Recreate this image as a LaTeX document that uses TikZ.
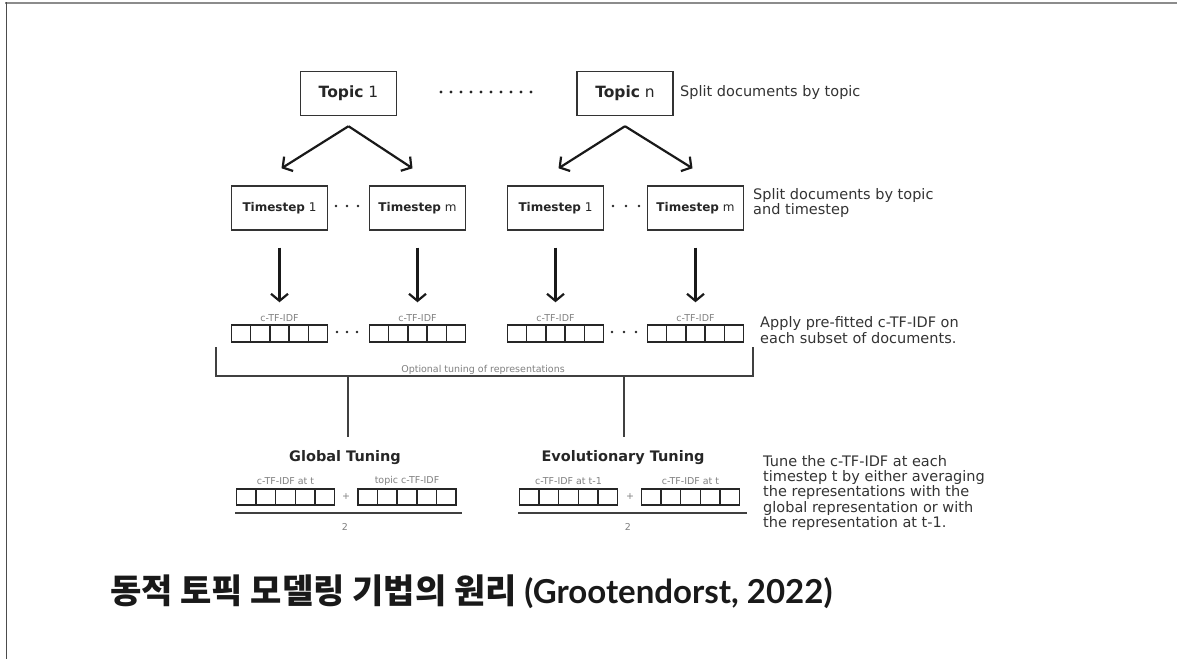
\documentclass[tikz,border=0pt]{standalone}
\usepackage{fontspec}
\setmainfont{DejaVu Sans}
\newfontfamily\krfont{Noto Sans CJK KR}
\newfontfamily\latofont{Lato}
\usetikzlibrary{arrows.meta,calc}
\begin{document}
\begin{tikzpicture}[x=1pt,y=-1pt,
  mybox/.style={draw=black!80, line width=1.4pt, inner sep=0pt, minimum height=44pt, text=black!85},
  topicbox/.style={mybox, minimum width=96pt, font=\fontsize{15.5}{17}\selectfont},
  tsbox/.style={mybox, minimum width=96pt, font=\fontsize{12}{14}\selectfont},
  cellrow/.style={draw=black!85, line width=1.5pt, minimum width=96pt, minimum height=17pt, inner sep=0pt,
    path picture={\foreach \i in {1,...,4}{\draw[black!85, line width=1.5pt]
      ($(path picture bounding box.south west)!\i/5!(path picture bounding box.south east)$) --
      ($(path picture bounding box.north west)!\i/5!(path picture bounding box.north east)$);}}},
  arr/.style={line width=2.2pt, black!90, -{Straight Barb[length=7pt,width=17pt,line width=2.2pt]}},
  lbl/.style={font=\fontsize{9.5}{11}\selectfont, text=black!50, inner sep=0pt},
  desc/.style={font=\fontsize{14.5}{15.3}\selectfont, text=black!80, align=left, inner sep=0pt},
  ttl/.style={font=\fontsize{14.5}{16}\selectfont\bfseries, text=black!85, inner sep=0pt},
  brk/.style={line width=1.3pt, black!75},
  dotfill/.style={fill=black!85, draw=none}
]
\useasboundingbox (0,0) rectangle (1177,659);
% frame
\draw[black!45, line width=2pt] (5,2.5) -- (1177,2.5);
\draw[black!70, line width=1pt] (6,2) -- (6,659);

% topics
\node[topicbox] (t1) at (348.5,93.5) {\textbf{Topic} 1};
\node[topicbox] (tn) at (625,93.5) {\textbf{Topic} n};
\foreach \x in {0,...,9} \fill[dotfill] (441+\x*10,92) circle (1.7pt);
\node[desc, anchor=west] (lab1) at (680,92) {Split documents by topic};

% timesteps
\node[tsbox] (s11) at (279.5,208) {\textbf{Timestep} 1};
\node[tsbox] (s1m) at (417.5,208) {\textbf{Timestep} m};
\node[tsbox] (s21) at (555.5,208) {\textbf{Timestep} 1};
\node[tsbox] (s2m) at (695.5,208) {\textbf{Timestep} m};
\foreach \x in {336,347,358} \fill[dotfill] (\x,206) circle (1.4pt);
\foreach \x in {613,626,639} \fill[dotfill] (\x,206) circle (1.4pt);
\node[desc, anchor=west] (lab2) at (753,203) {Split documents by topic\\and timestep};

% topic arrows
\draw[arr] ([yshift=-10pt]t1.south) -- ([xshift=2pt,yshift=17pt]s11.north);
\draw[arr] ([yshift=-10pt]t1.south) -- ([xshift=-5pt,yshift=17pt]s1m.north);
\draw[arr] ([yshift=-10pt]tn.south) -- ([xshift=3pt,yshift=17pt]s21.north);
\draw[arr] ([yshift=-10pt]tn.south) -- ([xshift=-3pt,yshift=17pt]s2m.north);

% c-TF-IDF arrays
\node[cellrow] (a11) at (279.5,333.5) {};
\node[cellrow] (a1m) at (417.5,333.5) {};
\node[cellrow] (a21) at (555.5,333.5) {};
\node[cellrow] (a2m) at (695.5,333.5) {};
\foreach \n in {a11,a1m,a21,a2m}
  \node[lbl, anchor=south] at ([yshift=2pt]\n.north) {c-TF-IDF};
\foreach \x in {337,347,357} \fill[dotfill] (\x,332) circle (1.3pt);
\foreach \x in {612,624,636} \fill[dotfill] (\x,332) circle (1.3pt);
\node[desc, anchor=west] (lab3) at (760,330) {Apply pre-fitted c-TF-IDF on\\each subset of documents.};

% vertical arrows
\draw[arr] ([yshift=-17pt]s11.south) -- ([yshift=22pt]a11.north);
\draw[arr] ([yshift=-17pt]s1m.south) -- ([yshift=22pt]a1m.north);
\draw[arr] ([yshift=-17pt]s21.south) -- ([yshift=22pt]a21.north);
\draw[arr] ([yshift=-17pt]s2m.south) -- ([yshift=22pt]a2m.north);

% bracket
\coordinate (bl) at (216,347);
\coordinate (blb) at (216,376);
\coordinate (brb) at (753,376);
\coordinate (br) at (753,347);
\draw[brk] (bl) -- (blb) -- (brb) -- (br);
\node[lbl, anchor=base] (opt) at (483,372) {Optional tuning of representations};
\coordinate (g0) at (348,376);
\coordinate (g1) at (348,437);
\coordinate (e0) at (624,376);
\coordinate (e1) at (624,437);
\draw[brk] (g0) -- (g1);
\draw[brk] (e0) -- (e1);

% global tuning
\node[ttl] (gt) at (345,458) {Global Tuning};
\node[cellrow, minimum width=98pt, minimum height=16pt] (ga) at (285.5,497) {};
\node[cellrow, minimum width=98pt, minimum height=16pt] (gb) at (407,497) {};
\node[lbl, anchor=south] at ([yshift=3pt]ga.north) {c-TF-IDF at t};
\node[lbl, anchor=south] at ([yshift=3pt]gb.north) {topic c-TF-IDF};
\node[lbl] (gp) at (346,497) {+};
\coordinate (gl) at (235,513);
\coordinate (gr) at (462,513);
\draw[brk] (gl) -- (gr);
\node[lbl] (g2) at (345,527) {2};

% evolutionary tuning
\node[ttl] (et) at (623,458) {Evolutionary Tuning};
\node[cellrow, minimum width=98pt, minimum height=16pt] (ea) at (568.5,497) {};
\node[cellrow, minimum width=98pt, minimum height=16pt] (eb) at (690.5,497) {};
\node[lbl, anchor=south] at ([yshift=3pt]ea.north) {c-TF-IDF at t-1};
\node[lbl, anchor=south] at ([yshift=3pt]eb.north) {c-TF-IDF at t};
\node[lbl] (ep) at (630,497) {+};
\coordinate (el) at (518,513);
\coordinate (er) at (747,513);
\draw[brk] (el) -- (er);
\node[lbl] (e2) at (628,527) {2};

\node[desc, anchor=north west] (lab4) at (763,455) {Tune the c-TF-IDF at each\\timestep t by either averaging\\the representations with the\\global representation or with\\the representation at t-1.};

% title
\node[anchor=west, inner sep=0pt, text=black!90] (title) at (110,592)
  {\fontsize{34}{40}\selectfont\krfont\bfseries 동적 토픽 모델링 기법의 원리 \fontsize{33}{40}\selectfont\latofont\bfseries(Grootendorst, 2022)};
\end{tikzpicture}
\end{document}
